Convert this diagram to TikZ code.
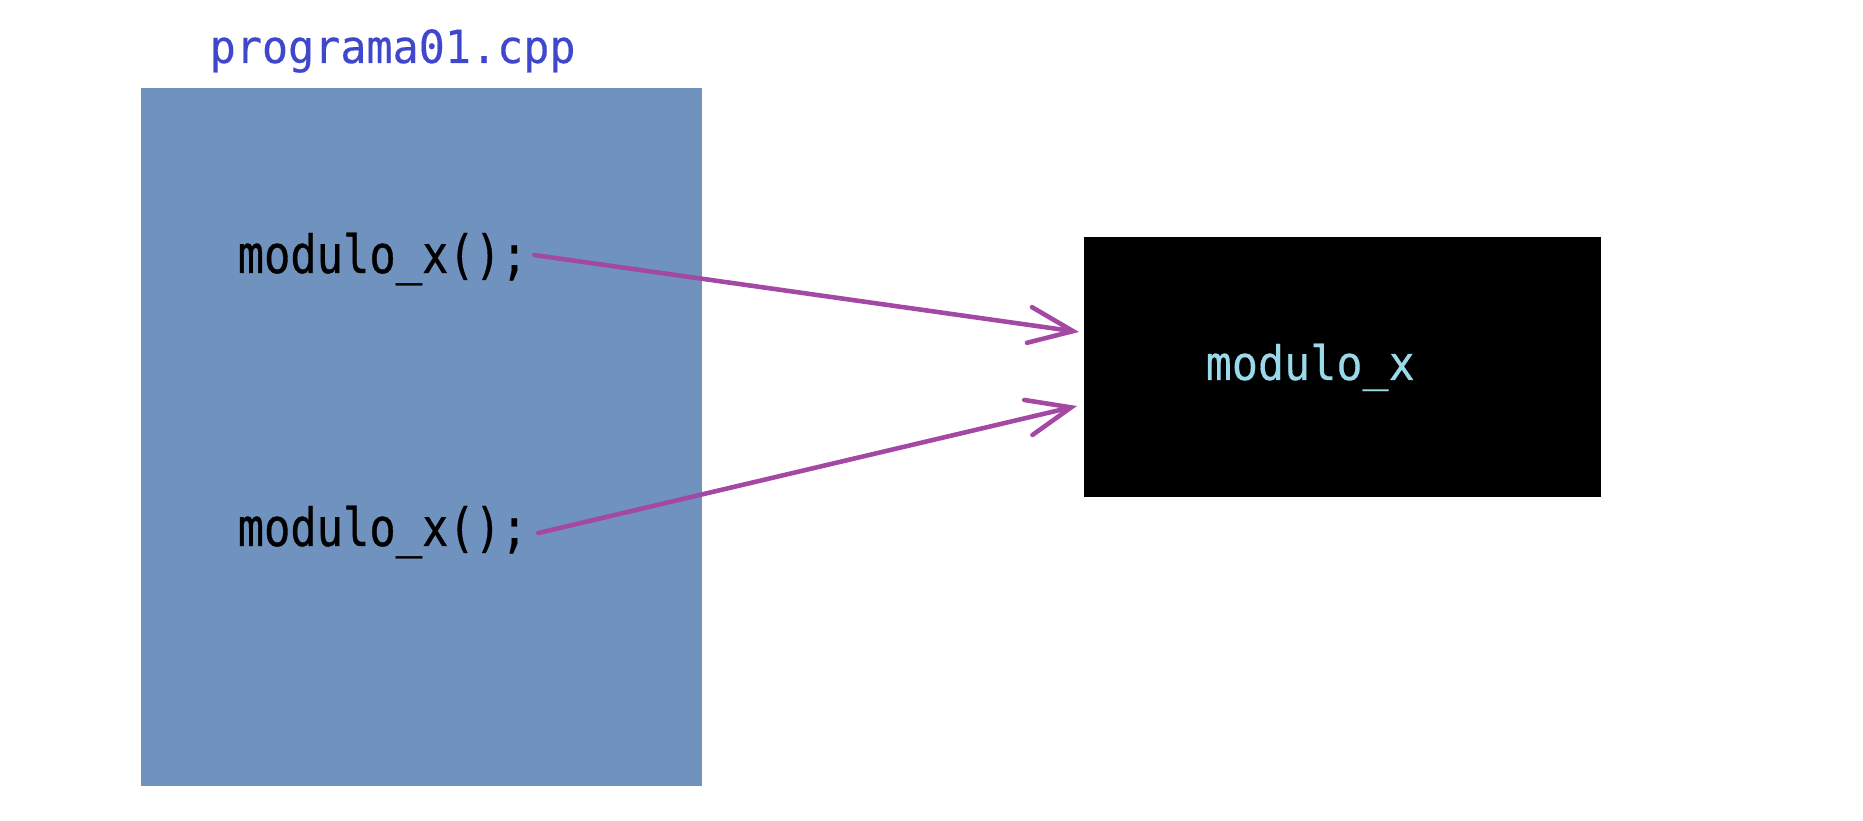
\documentclass[tikz,border=0pt]{standalone}
\usepackage{fontspec}
\setmonofont{DejaVu Sans Mono}
\newfontfamily\callfont[FakeStretch=0.83, FakeBold=0.6]{DejaVu Sans Mono}
\newfontfamily\titlefont[FakeStretch=0.95, FakeBold=0.3]{DejaVu Sans Mono}
\newfontfamily\modfont[FakeStretch=0.915, FakeBold=0.3]{DejaVu Sans Mono}
\usetikzlibrary{arrows.meta}
\definecolor{filebg}{HTML}{7092BE}
\definecolor{titleblue}{HTML}{3F48CC}
\definecolor{callpurple}{HTML}{A349A4}
\definecolor{modcyan}{HTML}{99D9EA}
\tikzset{
    code/.style={anchor=base west, inner sep=0pt},
    callarrow/.style={draw=callpurple, line width=1.3pt, line cap=round,
        -{Straight Barb[length=4.4mm, width=3.6mm, line cap=round]}}
}

\begin{document}
\begin{tikzpicture}
    \useasboundingbox (0,0) rectangle (18.63,8.20);
    \fill[filebg] (1.41,0.34) rectangle (7.02,7.32);
    \fill[black] (10.84,3.23) rectangle (16.01,5.83);
    \node[code, text=titleblue, font=\titlefont\fontsize{13}{15}\selectfont] at (2.09,7.57) (title) {programa01.cpp};
    \node[code, font=\callfont\fontsize{15}{17}\selectfont] at (2.37,5.47) (call1) {modulo\_x();};
    \node[code, font=\callfont\fontsize{15}{17}\selectfont] at (2.37,2.74) (call2) {modulo\_x();};
    \node[code, text=modcyan, font=\modfont\fontsize{13.5}{15}\selectfont] at (12.05,4.40) (modx) {modulo\_x};
    \coordinate (tip1) at (10.79,4.88);
    \coordinate (tip2) at (10.77,4.14);
    \draw[callarrow] ([xshift=0.6mm, yshift=0.4mm]call1.east) -- (tip1);
    \draw[callarrow] ([xshift=1mm, yshift=-0.1mm]call2.east) -- (tip2);

\end{tikzpicture}
\end{document}
